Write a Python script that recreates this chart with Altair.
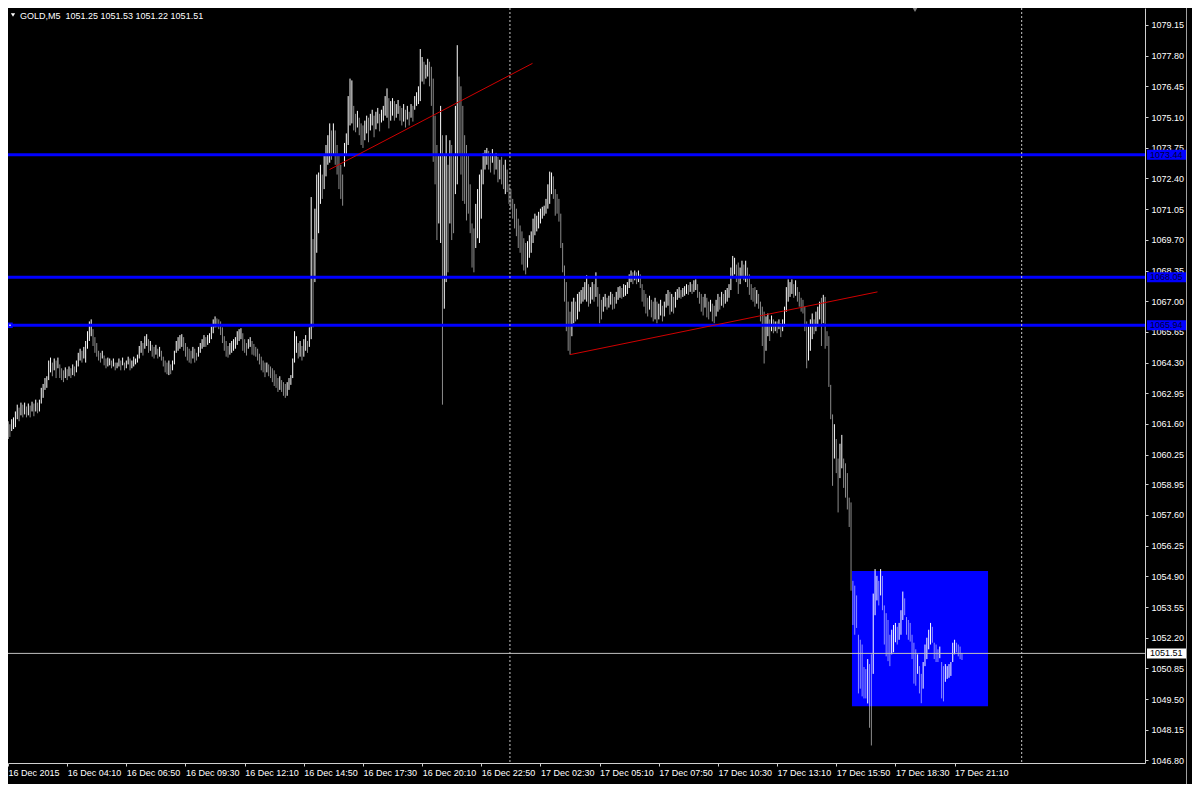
import json
import altair as alt
import pandas as pd

# ---------------- data ----------------
symbol = "GOLD,M5"
last_ohlc = [1051.25, 1051.53, 1051.22, 1051.51]

highs = [
    1061.72, 1061.59, 1061.81, 1061.89, 1062.15, 1062.45, 1062.32, 1062.54, 1062.45, 1062.54, 1062.37, 1062.50, 1062.41, 1062.58, 1062.50, 1062.67,
    1062.54, 1062.67, 1063.19, 1063.36, 1063.62, 1063.70, 1064.39, 1064.52, 1064.30, 1064.48, 1064.39, 1064.52, 1064.22, 1064.05, 1063.96, 1064.09,
    1064.01, 1064.13, 1064.05, 1064.22, 1064.13, 1064.39, 1064.73, 1064.91, 1064.82, 1064.99, 1065.25, 1065.68, 1066.11, 1066.20, 1065.77, 1065.42,
    1065.16, 1064.82, 1064.73, 1064.82, 1064.61, 1064.48, 1064.52, 1064.48, 1064.39, 1064.48, 1064.30, 1064.30, 1064.48, 1064.39, 1064.52, 1064.30,
    1064.39, 1064.56, 1064.48, 1064.39, 1064.56, 1064.48, 1064.65, 1065.03, 1065.25, 1065.16, 1065.46, 1065.55, 1065.33, 1065.25, 1065.08, 1064.99,
    1065.08, 1064.91, 1064.99, 1064.82, 1064.56, 1064.39, 1064.30, 1064.39, 1064.22, 1064.39, 1064.82, 1065.25, 1065.42, 1065.51, 1065.55, 1065.42,
    1065.16, 1064.99, 1064.91, 1064.82, 1064.99, 1064.91, 1064.73, 1064.99, 1065.16, 1065.33, 1065.51, 1065.42, 1065.51, 1065.59, 1065.89, 1066.20,
    1066.33, 1066.24, 1066.20, 1066.11, 1065.85, 1065.46, 1065.25, 1065.03, 1065.16, 1065.25, 1065.33, 1065.42, 1065.68, 1065.77, 1065.81, 1065.59,
    1065.33, 1065.16, 1065.33, 1065.42, 1065.25, 1065.12, 1064.99, 1064.91, 1064.69, 1064.56, 1064.39, 1064.30, 1064.30, 1064.22, 1064.13, 1064.05,
    1063.96, 1063.79, 1063.62, 1063.70, 1063.53, 1063.44, 1063.36, 1063.44, 1063.62, 1063.75, 1064.48, 1065.68, 1065.46, 1065.16, 1065.25, 1065.03,
    1065.33, 1065.51, 1065.25, 1065.85, 1071.58, 1069.73, 1071.07, 1072.57, 1072.66, 1073.00, 1072.57, 1073.44, 1073.87, 1074.30, 1074.82, 1074.51,
    1074.82, 1074.51, 1073.87, 1073.44, 1073.00, 1072.57, 1073.96, 1074.38, 1076.02, 1076.79, 1076.71, 1075.59, 1075.24, 1075.37, 1075.07, 1074.82,
    1074.73, 1074.94, 1075.16, 1075.07, 1075.24, 1075.42, 1075.16, 1075.33, 1075.50, 1075.24, 1075.42, 1075.59, 1076.02, 1076.36, 1075.93, 1075.80,
    1075.93, 1075.80, 1075.67, 1075.85, 1075.59, 1075.50, 1075.67, 1075.42, 1075.59, 1075.33, 1075.67, 1075.59, 1076.02, 1076.19, 1076.45, 1078.09,
    1077.74, 1077.53, 1077.40, 1077.66, 1077.53, 1077.31, 1076.79, 1075.16, 1073.87, 1073.44, 1075.59, 1074.30, 1073.44, 1074.30, 1073.00, 1074.08,
    1073.87, 1073.44, 1075.59, 1078.26, 1076.88, 1076.45, 1075.59, 1074.30, 1073.87, 1073.44, 1072.14, 1070.42, 1070.20, 1071.28, 1071.93, 1072.57,
    1072.79, 1073.52, 1073.65, 1073.74, 1073.61, 1073.52, 1073.69, 1073.44, 1073.52, 1073.35, 1073.22, 1073.35, 1073.00, 1073.22, 1072.79, 1072.14,
    1071.93, 1071.50, 1071.28, 1071.07, 1070.63, 1070.33, 1070.07, 1069.77, 1069.56, 1069.64, 1069.90, 1070.07, 1070.63, 1070.85, 1070.76, 1070.93,
    1071.07, 1071.15, 1071.20, 1071.50, 1072.14, 1072.70, 1072.66, 1072.49, 1071.93, 1071.71, 1071.50, 1070.85, 1069.56, 1068.57, 1067.84, 1066.98,
    1066.54, 1066.98, 1067.15, 1066.98, 1067.32, 1067.41, 1067.49, 1067.62, 1067.84, 1068.14, 1067.75, 1067.62, 1067.84, 1067.75, 1068.27, 1067.62,
    1067.32, 1067.06, 1067.19, 1067.32, 1067.15, 1067.24, 1067.41, 1067.32, 1067.19, 1067.41, 1067.62, 1067.66, 1067.58, 1067.75, 1067.71, 1067.84,
    1068.18, 1068.35, 1068.27, 1068.35, 1068.27, 1068.35, 1068.18, 1067.75, 1067.49, 1067.32, 1067.15, 1067.24, 1067.06, 1066.98, 1067.15, 1066.98,
    1066.89, 1067.06, 1066.80, 1066.98, 1067.32, 1067.49, 1067.41, 1067.32, 1067.19, 1067.41, 1067.53, 1067.62, 1067.49, 1067.58, 1067.66, 1067.75,
    1067.71, 1067.84, 1067.75, 1067.92, 1067.96, 1067.75, 1067.41, 1067.32, 1067.19, 1067.32, 1067.15, 1066.98, 1067.06, 1066.89, 1066.80, 1067.06,
    1067.32, 1067.19, 1067.41, 1067.32, 1067.49, 1067.58, 1067.75, 1068.48, 1068.99, 1068.91, 1068.61, 1068.70, 1068.48, 1068.78, 1068.61, 1068.78,
    1068.48, 1068.18, 1067.75, 1067.58, 1067.62, 1067.49, 1067.32, 1066.98, 1066.76, 1066.54, 1066.33, 1066.46, 1066.20, 1066.37, 1066.20, 1066.11,
    1066.11, 1066.20, 1066.03, 1066.20, 1066.76, 1067.62, 1067.96, 1067.84, 1067.96, 1067.75, 1067.92, 1067.62, 1067.41, 1067.15, 1067.06, 1066.76,
    1066.11, 1065.89, 1066.20, 1066.46, 1066.20, 1066.54, 1066.76, 1066.98, 1067.15, 1067.28, 1067.19, 1065.68, 1065.46, 1063.32, 1062.02, 1061.59,
    1060.94, 1060.08, 1060.73, 1061.12, 1060.08, 1059.87, 1059.44, 1058.36, 1058.15, 1054.70, 1054.49, 1054.06, 1052.33, 1052.11, 1051.90, 1050.91,
    1050.82, 1051.26, 1051.04, 1051.47, 1054.14, 1055.22, 1054.92, 1054.70, 1055.22, 1054.92, 1053.62, 1053.28, 1052.98, 1052.33, 1052.55, 1052.76,
    1052.85, 1052.68, 1052.85, 1053.41, 1054.23, 1053.93, 1053.11, 1052.98, 1052.85, 1052.33, 1051.98, 1051.69, 1051.47, 1050.95, 1050.61, 1051.13,
    1051.90, 1052.20, 1052.55, 1052.85, 1052.68, 1051.98, 1051.90, 1051.69, 1051.81, 1051.13, 1050.95, 1051.04, 1050.95, 1051.04, 1051.13, 1051.98,
    1052.11, 1051.98, 1051.90, 1051.81, 1051.53,
]

lows = [
    1060.94, 1061.03, 1061.29, 1061.38, 1061.46, 1061.81, 1061.72, 1061.98, 1061.89, 1062.02, 1061.89, 1061.98, 1061.89, 1062.15, 1061.94, 1062.15,
    1062.07, 1062.15, 1062.50, 1062.75, 1063.10, 1063.19, 1063.53, 1063.87, 1063.70, 1063.96, 1063.62, 1064.05, 1063.62, 1063.53, 1063.44, 1063.62,
    1063.53, 1063.70, 1063.62, 1063.75, 1063.70, 1063.87, 1064.13, 1064.39, 1064.30, 1064.48, 1064.30, 1064.91, 1065.25, 1065.46, 1065.03, 1064.73,
    1064.56, 1064.39, 1064.30, 1064.48, 1064.18, 1064.05, 1064.13, 1064.18, 1064.05, 1064.13, 1063.96, 1064.05, 1064.13, 1063.96, 1064.18, 1063.96,
    1064.05, 1064.22, 1063.96, 1064.05, 1064.13, 1064.22, 1064.30, 1064.48, 1064.73, 1064.61, 1064.91, 1065.03, 1064.73, 1064.82, 1064.56, 1064.48,
    1064.65, 1064.48, 1064.56, 1064.39, 1064.13, 1063.87, 1063.79, 1063.75, 1063.79, 1063.96, 1064.22, 1064.73, 1064.82, 1064.91, 1064.99, 1064.82,
    1064.56, 1064.39, 1064.30, 1064.26, 1064.48, 1064.30, 1064.39, 1064.56, 1064.73, 1064.91, 1064.99, 1064.99, 1065.08, 1065.16, 1065.33, 1065.59,
    1065.85, 1065.85, 1065.77, 1065.51, 1065.16, 1064.82, 1064.56, 1064.52, 1064.65, 1064.73, 1064.82, 1064.91, 1065.08, 1065.25, 1065.33, 1064.82,
    1064.73, 1064.61, 1064.91, 1064.99, 1064.65, 1064.61, 1064.56, 1064.39, 1064.22, 1063.96, 1063.87, 1063.66, 1063.87, 1063.70, 1063.62, 1063.44,
    1063.27, 1063.19, 1063.01, 1063.10, 1063.01, 1062.84, 1062.75, 1062.84, 1063.10, 1063.32, 1063.62, 1064.30, 1064.73, 1064.48, 1064.56, 1064.39,
    1064.56, 1064.82, 1064.73, 1064.99, 1065.33, 1065.85, 1067.84, 1069.13, 1069.99, 1071.28, 1071.50, 1071.93, 1072.49, 1073.00, 1073.09, 1073.22,
    1073.44, 1073.00, 1072.57, 1071.93, 1071.50, 1071.20, 1072.92, 1073.44, 1073.87, 1074.73, 1074.82, 1074.51, 1074.43, 1074.64, 1074.30, 1073.87,
    1073.74, 1074.08, 1074.38, 1073.99, 1074.51, 1074.73, 1074.21, 1074.56, 1074.82, 1074.47, 1074.86, 1074.94, 1075.16, 1075.07, 1074.60, 1074.94,
    1075.16, 1074.94, 1075.07, 1075.24, 1074.94, 1074.73, 1074.90, 1074.64, 1074.99, 1074.73, 1075.07, 1074.90, 1075.42, 1075.59, 1075.67, 1075.80,
    1076.66, 1076.54, 1076.79, 1076.88, 1076.45, 1075.59, 1073.13, 1072.14, 1069.69, 1070.42, 1069.56, 1062.45, 1066.67, 1067.84, 1068.27, 1070.42,
    1069.69, 1069.99, 1071.71, 1072.14, 1073.44, 1072.57, 1071.41, 1071.28, 1070.55, 1070.85, 1069.99, 1068.48, 1068.27, 1069.34, 1069.77, 1069.56,
    1070.63, 1072.14, 1072.79, 1073.00, 1072.79, 1072.66, 1073.09, 1072.57, 1072.79, 1072.23, 1072.36, 1072.14, 1071.93, 1071.71, 1071.80, 1071.28,
    1071.07, 1070.63, 1070.20, 1069.86, 1069.34, 1069.13, 1068.61, 1068.35, 1068.18, 1068.48, 1068.91, 1069.13, 1069.56, 1069.90, 1070.07, 1070.20,
    1070.42, 1070.63, 1070.76, 1070.85, 1071.07, 1071.28, 1071.71, 1071.50, 1070.76, 1070.85, 1070.50, 1069.34, 1068.27, 1066.98, 1065.68, 1064.82,
    1064.65, 1065.46, 1066.03, 1066.11, 1066.20, 1066.54, 1066.89, 1066.98, 1067.07, 1066.98, 1066.76, 1066.89, 1067.07, 1066.98, 1067.19, 1066.76,
    1066.03, 1066.20, 1066.54, 1066.76, 1066.63, 1066.72, 1066.85, 1066.63, 1066.67, 1066.89, 1067.06, 1067.15, 1067.11, 1067.19, 1067.24, 1067.32,
    1067.58, 1067.84, 1067.75, 1067.92, 1067.75, 1067.84, 1067.58, 1066.98, 1066.76, 1066.46, 1066.33, 1066.63, 1066.29, 1066.11, 1066.20, 1066.03,
    1066.20, 1066.37, 1066.11, 1066.33, 1066.72, 1066.80, 1066.41, 1066.54, 1066.46, 1066.72, 1067.06, 1067.15, 1067.11, 1067.19, 1067.24, 1067.32,
    1067.28, 1067.41, 1067.32, 1067.41, 1067.49, 1067.15, 1066.89, 1066.54, 1066.37, 1066.72, 1066.29, 1066.20, 1066.54, 1066.11, 1066.03, 1066.33,
    1066.54, 1066.63, 1066.80, 1066.72, 1066.89, 1066.98, 1067.15, 1067.49, 1068.05, 1068.18, 1067.84, 1067.32, 1067.75, 1068.05, 1067.92, 1067.84,
    1067.62, 1067.28, 1067.06, 1066.98, 1066.76, 1066.89, 1066.67, 1066.11, 1065.03, 1064.26, 1064.82, 1065.46, 1065.25, 1065.68, 1065.59, 1065.68,
    1065.59, 1065.77, 1065.42, 1065.68, 1065.89, 1066.54, 1066.98, 1067.19, 1067.32, 1067.15, 1067.24, 1066.98, 1066.76, 1066.54, 1066.46, 1065.68,
    1064.05, 1064.39, 1064.82, 1065.33, 1065.55, 1065.68, 1065.89, 1066.20, 1065.03, 1066.03, 1064.91, 1065.03, 1063.23, 1061.81, 1058.88, 1060.08,
    1059.44, 1057.71, 1059.22, 1059.65, 1058.79, 1058.36, 1057.84, 1057.07, 1054.27, 1052.76, 1052.33, 1052.63, 1049.75, 1049.96, 1049.62, 1049.53,
    1049.53, 1049.31, 1048.24, 1047.46, 1050.61, 1053.19, 1053.84, 1053.62, 1054.06, 1053.41, 1051.90, 1051.38, 1051.17, 1050.95, 1051.47, 1051.56,
    1052.00, 1051.90, 1052.11, 1052.33, 1052.98, 1053.19, 1052.33, 1052.11, 1052.03, 1051.26, 1050.18, 1050.09, 1050.61, 1049.75, 1049.32, 1049.96,
    1050.95, 1051.26, 1051.69, 1051.90, 1051.98, 1051.26, 1051.13, 1051.13, 1051.30, 1049.53, 1049.40, 1050.26, 1050.39, 1050.44, 1050.52, 1051.13,
    1051.47, 1051.56, 1051.38, 1051.26, 1051.22,
]

time_labels = [
    "16 Dec 2015", "16 Dec 04:10", "16 Dec 06:50", "16 Dec 09:30", "16 Dec 12:10",
    "16 Dec 14:50", "16 Dec 17:30", "16 Dec 20:10", "16 Dec 22:50", "17 Dec 02:30",
    "17 Dec 05:10", "17 Dec 07:50", "17 Dec 10:30", "17 Dec 13:10", "17 Dec 15:50",
    "17 Dec 18:30", "17 Dec 21:10",
]
label_every = 32  # bars between time labels

price_ticks = [
    1079.15, 1077.80, 1076.45, 1075.10, 1073.75, 1072.40, 1071.05, 1069.70, 1068.35,
    1067.00, 1065.65, 1064.30, 1062.95, 1061.60, 1060.25, 1058.95, 1057.60, 1056.25,
    1054.90, 1053.55, 1052.20, 1050.85, 1049.50, 1048.15, 1046.80,
]

hline_prices = [1073.44, 1068.05, 1065.94]
bid_price = 1051.51
separator_bars = [271.5, 548.3]
trend_start_bar = [173.9, 304.0]
trend_start_price = [1072.79, 1064.65]
trend_end_bar = [283.7, 470.3]
trend_end_price = [1077.46, 1067.41]
box_bars = [456.5, 530.1]
box_prices = [1055.13, 1049.19]

# ---------------- layout / style ----------------
W, H = 1137, 755
AX_R, AX_B = 47, 21
FONT = "Liberation Sans"
FS = 9

n = min(len(highs), len(lows))
bars = pd.DataFrame({"i": list(range(n)), "high": highs[:n], "low": lows[:n]})
mid = (bars["high"] + bars["low"]) / 2
bars["dir"] = ["up" if d >= 0 else "down" for d in mid.diff().fillna(0)]

xs = alt.Scale(domain=[0, 615], nice=False, zero=False)
ys = alt.Scale(domain=[1046.69, 1079.895], nice=False, zero=False)

label_js = json.dumps(time_labels)
x_axis = alt.Axis(
    values=[k * label_every for k in range(len(time_labels))],
    labelExpr=f"{label_js}[round(datum.value / {label_every})]",
    orient="bottom", title=None, grid=False, tickSize=3,
    labelAlign="left", labelBaseline="top", labelPadding=2,
    labelOverlap=False, labelFlush=False, labelBound=False,
)
y_axis = alt.Axis(
    values=price_ticks, format=".2f", orient="right", title=None, grid=False,
    tickSize=3, labelPadding=3, labelAlign="left", labelBaseline="middle",
    labelOverlap=False, labelFlush=False, labelBound=False,
)


def X(field):
    return alt.X(field, scale=xs, axis=x_axis)


def Y(field):
    return alt.Y(field, scale=ys, axis=y_axis)


box_df = pd.DataFrame({"x1": [box_bars[0]], "x2": [box_bars[1]],
                       "y1": [box_prices[0]], "y2": [box_prices[1]]})
box = alt.Chart(box_df).mark_rect(color="#0000ff").encode(
    x=X("x1:Q"), x2="x2:Q", y=Y("y1:Q"), y2="y2:Q",
)

bar_layer = alt.Chart(bars).mark_rule(strokeWidth=1, color="#ffffff").encode(
    x=X("i:Q"), y=Y("high:Q"), y2="low:Q",
    opacity=alt.Opacity("dir:N", scale=alt.Scale(domain=["up", "down"], range=[1.0, 0.55]), legend=None),
)

hl_df = pd.DataFrame({"p": hline_prices})
hlines = alt.Chart(hl_df).mark_rule(color="#0000ff", strokeWidth=3).encode(y=Y("p:Q"))

bid_df = pd.DataFrame({"p": [bid_price]})
bid_line = alt.Chart(bid_df).mark_rule(color="#c0c0c0", strokeWidth=1).encode(y=Y("p:Q"))

sep_df = pd.DataFrame({"b": separator_bars})
seps = alt.Chart(sep_df).mark_rule(color="#c8c8c8", strokeWidth=1, strokeDash=[2, 2]).encode(x=X("b:Q"))

tr_df = pd.DataFrame({"x1": trend_start_bar, "y1": trend_start_price,
                      "x2": trend_end_bar, "y2": trend_end_price})
trends = alt.Chart(tr_df).mark_rule(color="#d00000", strokeWidth=1).encode(
    x=X("x1:Q"), x2="x2:Q", y=Y("y1:Q"), y2="y2:Q",
)

hl_df["t"] = [f"{p:.2f}" for p in hline_prices]
hl_boxes = alt.Chart(hl_df).mark_rect(color="#0000ff", yOffset=-5, y2Offset=5).encode(
    x=alt.value(W + 2), x2=alt.value(W + 41), y=Y("p:Q"), y2="p:Q",
)
hl_text = alt.Chart(hl_df).mark_text(align="left", baseline="middle", font=FONT,
                                     fontSize=FS, color="#000033").encode(
    x=alt.value(W + 5), y=Y("p:Q"), text="t:N",
)
bid_df["t"] = [f"{bid_price:.2f}"]
bid_box = alt.Chart(bid_df).mark_rect(color="#ffffff", yOffset=-5, y2Offset=5).encode(
    x=alt.value(W + 2), x2=alt.value(W + 41), y=Y("p:Q"), y2="p:Q",
)
bid_text = alt.Chart(bid_df).mark_text(align="left", baseline="middle", font=FONT,
                                       fontSize=FS, color="#000000").encode(
    x=alt.value(W + 5), y=Y("p:Q"), text="t:N",
)

anchor_df = pd.DataFrame({"p": [hline_prices[2]]})
anchor = alt.Chart(anchor_df).mark_square(color="#0000ff", size=30, opacity=1).encode(
    x=alt.value(2), y=Y("p:Q")
)
anchor_dot = alt.Chart(anchor_df).mark_square(color="#ffffff", size=2, opacity=1).encode(
    x=alt.value(2), y=Y("p:Q")
)

border = alt.Chart(pd.DataFrame({"a": [0]})).mark_rule(color="#a0a0a0", strokeWidth=1).encode(
    x=alt.value(W + 41.5), y=alt.value(0), y2=alt.value(H + AX_B)
)

head_df = pd.DataFrame({"t": [f"{symbol}\u00a0\u00a0" + " ".join(f"{v:.2f}" for v in last_ohlc)]})
header = alt.Chart(head_df).mark_text(align="left", baseline="middle", font=FONT,
                                      fontSize=FS, color="#ffffff").encode(
    x=alt.value(12), y=alt.value(8), text="t:N"
)
head_tri = alt.Chart(pd.DataFrame({"a": [0]})).mark_point(
    shape="triangle-down", filled=True, size=18, color="#ffffff", opacity=1
).encode(x=alt.value(5), y=alt.value(7))
shift_tri = alt.Chart(pd.DataFrame({"a": [0]})).mark_point(
    shape="triangle-down", filled=True, size=45, color="#808080", opacity=1
).encode(x=alt.value(907), y=alt.value(1))

chart = alt.layer(
    box, bar_layer, hlines, bid_line, seps, trends,
    hl_boxes, hl_text, bid_box, bid_text, anchor, anchor_dot, border,
    header, head_tri, shift_tri,
).properties(
    width=W, height=H, background="#000000",
    padding={"left": 0, "top": 0, "right": AX_R, "bottom": AX_B},
    autosize=alt.AutoSizeParams(type="none"),
).configure_view(stroke=None).configure_axis(
    labelFont=FONT, labelFontSize=FS, labelColor="#ffffff",
    domainColor="#d0d0d0", tickColor="#d0d0d0",
)

chart.save("out.html", embed_options={"renderer": "svg", "actions": False})
